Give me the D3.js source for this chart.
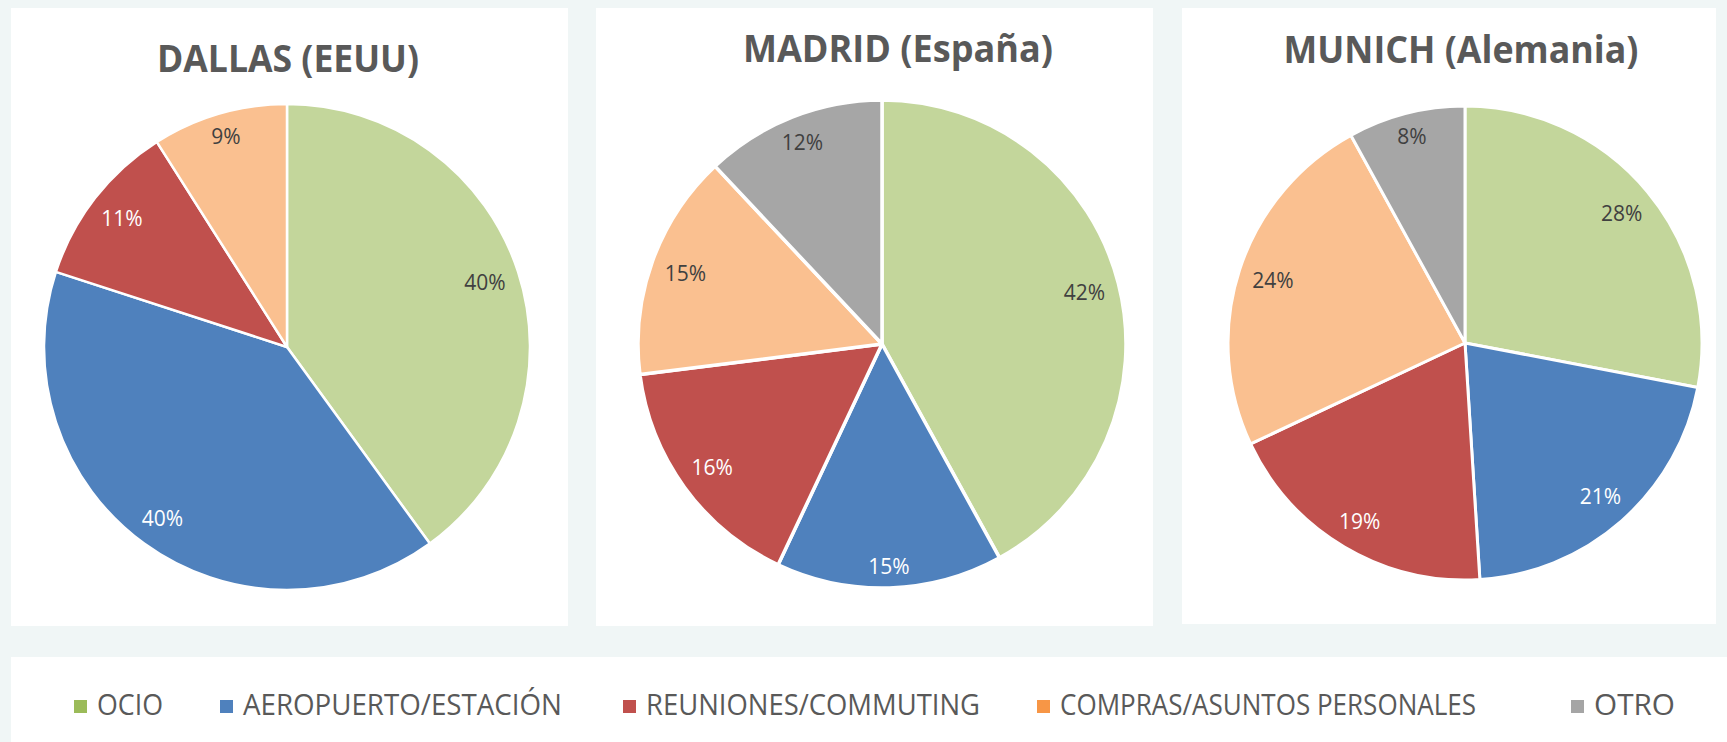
<!DOCTYPE html>
<html>
<head>
<meta charset="utf-8">
<script src="https://cdn.jsdelivr.net/npm/d3@7"></script>
<style>
  body { margin: 0; background: #f0f6f6; }
  svg { display: block; }
</style>
</head>
<body>
<svg id="chart"></svg>
<script>
// datos: motivo del viaje (%) por ciudad
const categories = ["OCIO", "AEROPUERTO/ESTACIÓN", "REUNIONES/COMMUTING", "COMPRAS/ASUNTOS PERSONALES", "OTRO"];
const cities = ["DALLAS (EEUU)", "MADRID (España)", "MUNICH (Alemania)"];
const dallas = [40, 40, 11, 9, 0];
const madrid = [42, 15, 16, 15, 12];
const munich = [28, 21, 19, 24, 8];
const series = [dallas, madrid, munich];

const width = 1727;
const height = 742;

// colores: las porciones usan tonos claros, la leyenda los tonos base
const sliceColor = d3.scaleOrdinal()
  .domain(categories)
  .range(["#c3d69b", "#4f81bd", "#c0504d", "#fac090", "#a6a6a6"]);
const legendColor = d3.scaleOrdinal()
  .domain(categories)
  .range(["#9bbb59", "#4f81bd", "#c0504d", "#f79646", "#a5a5a5"]);
const lightSlices = ["OCIO", "COMPRAS/ASUNTOS PERSONALES", "OTRO"];

// caja de cada gráfico
const panels = [
  {x0: 11, x1: 568, y0: 8, y1: 626, cx: 287, cy: 347, r: 243, tx: 288, ty: 72, tw: 262, stroke: 2.5},
  {x0: 596, x1: 1153, y0: 8, y1: 626, cx: 882, cy: 344, r: 244, tx: 898, ty: 62, tw: 310, stroke: 3.5},
  {x0: 1182, x1: 1716, y0: 8, y1: 624, cx: 1465, cy: 343, r: 237, tx: 1461, ty: 63, tw: 355, stroke: 3}
];

// posición de cada entrada de la leyenda
const legendX = [74, 220, 623, 1037, 1571];
const legendW = [66, 319, 334, 416, 81];

const svg = d3.select("#chart")
  .attr("width", width)
  .attr("height", height);

const pie = d3.pie()
  .sort(null)
  .value(d => d.value);

panels.forEach((p, i) => {
  svg.append("rect")
    .attr("x", p.x0).attr("y", p.y0)
    .attr("width", p.x1 - p.x0).attr("height", p.y1 - p.y0)
    .attr("fill", "#fff");

  svg.append("text")
    .attr("x", p.tx).attr("y", p.ty)
    .attr("text-anchor", "middle")
    .attr("font-family", "'Open Sans', sans-serif")
    .attr("font-weight", 700)
    .attr("font-size", 37)
    .attr("fill", "#595959")
    .attr("textLength", p.tw)
    .attr("lengthAdjust", "spacingAndGlyphs")
    .text(cities[i]);

  const data = categories.map((c, k) => ({cat: c, value: series[i][k]}))
    .filter(d => d.value > 0);
  const arcs = pie(data);
  const arc = d3.arc().innerRadius(0).outerRadius(p.r);

  const g = svg.append("g")
    .attr("transform", `translate(${p.cx},${p.cy})`);

  g.selectAll("path")
    .data(arcs)
    .join("path")
      .attr("d", arc)
      .attr("fill", d => sliceColor(d.data.cat))
      .attr("stroke", "#fff")
      .attr("stroke-width", p.stroke)
      .attr("stroke-linejoin", "round");

  // etiquetas dentro del borde
  const labels = g.selectAll("text")
    .data(arcs)
    .join("text")
      .attr("text-anchor", "middle")
      .attr("font-family", "'Open Sans', sans-serif")
      .attr("font-size", 21)
      .attr("fill", d => lightSlices.includes(d.data.cat) ? "#404040" : "#fff")
      .text(d => d.data.value + "%");

  labels.each(function(d) {
    const w = this.getComputedTextLength();
    const h = 15;
    const a = (d.startAngle + d.endAngle) / 2;
    const s = Math.sin(a), c = Math.cos(a);
    const dist = p.r - 13 - (Math.abs(s) * w / 2 + Math.abs(c) * h / 2);
    d3.select(this)
      .attr("x", s * dist)
      .attr("y", -c * dist + 7.5);
  });
});

// leyenda
svg.append("rect")
  .attr("x", 11).attr("y", 657)
  .attr("width", width - 11).attr("height", height - 657)
  .attr("fill", "#fff");

const legend = svg.append("g")
  .selectAll("g")
  .data(categories)
  .join("g");

legend.append("rect")
  .attr("x", (d, k) => legendX[k]).attr("y", 700)
  .attr("width", 13).attr("height", 13)
  .attr("fill", d => legendColor(d));

legend.append("text")
  .attr("x", (d, k) => legendX[k] + 23).attr("y", 715)
  .attr("font-family", "'Open Sans', sans-serif")
  .attr("font-size", 29)
  .attr("fill", "#595959")
  .attr("textLength", (d, k) => legendW[k])
  .attr("lengthAdjust", "spacingAndGlyphs")
  .text(d => d);
</script>
</body>
</html>
